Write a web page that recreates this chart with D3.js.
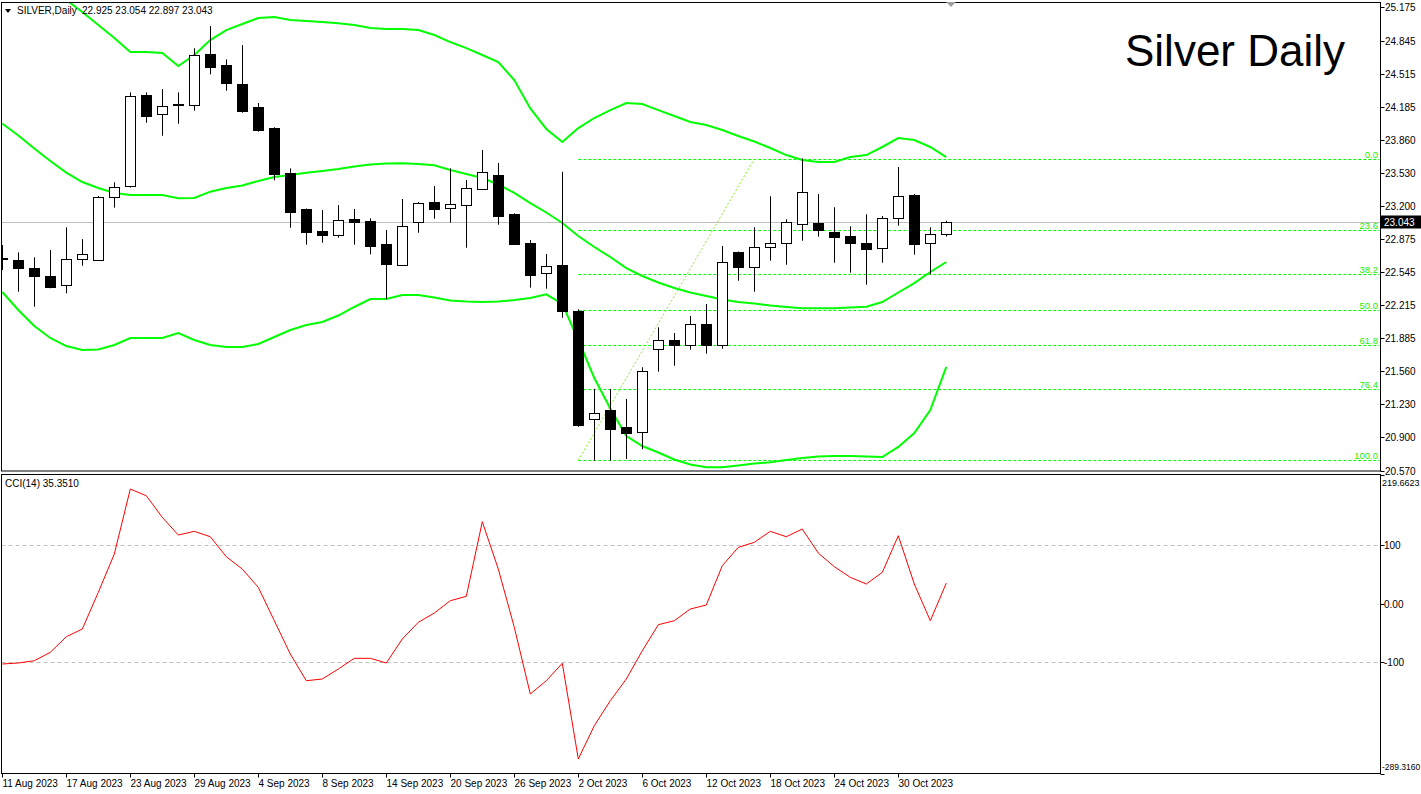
<!DOCTYPE html>
<html><head><meta charset="utf-8">
<script src="https://cdn.jsdelivr.net/npm/d3@7"></script>
<style>
body{margin:0;background:#fff;overflow:hidden;}
text{font-family:"Liberation Sans",Arial,sans-serif;}
</style>
</head><body>
<svg id="chart" width="1421" height="794"></svg>
<script>
// ---------- DATA ----------
const opens  = [22.684,22.664,22.581,22.508,22.412,22.671,22.661,23.293,23.396,24.301,24.118,24.206,24.201,24.711,24.599,24.410,24.184,23.976,23.525,23.171,22.952,22.909,23.071,23.051,22.823,22.611,23.038,23.237,23.178,23.207,23.366,23.509,23.121,22.833,22.532,22.614,22.154,21.081,21.173,21.001,20.952,21.776,21.866,21.816,22.028,21.816,22.740,22.591,22.790,22.830,23.019,23.029,22.939,22.899,22.830,22.780,23.078,23.307,22.830,22.925];
const highs  = [22.813,22.740,22.691,22.763,22.989,22.872,23.300,23.436,24.330,24.330,24.363,24.330,24.768,24.989,24.658,24.800,24.224,23.983,23.575,23.176,23.161,23.210,23.171,23.078,22.962,23.270,23.240,23.399,23.575,23.459,23.757,23.628,23.128,22.863,22.723,23.541,22.174,21.382,21.382,21.283,21.598,21.995,21.938,22.107,22.227,22.803,22.748,22.989,23.297,23.068,23.674,23.320,23.188,22.999,23.118,23.101,23.588,23.320,22.989,23.054];
const lows   = [22.564,22.349,22.200,22.383,22.333,22.607,22.654,23.184,23.384,24.028,23.899,24.018,24.148,24.509,24.346,24.128,23.939,23.456,22.985,22.816,22.836,22.885,22.816,22.720,22.276,22.609,22.935,23.074,23.035,22.786,23.359,23.015,22.820,22.389,22.379,22.090,21.007,20.669,20.669,20.686,20.783,21.554,21.613,21.772,21.733,21.782,22.458,22.349,22.657,22.617,22.856,22.895,22.637,22.538,22.418,22.637,23.005,22.717,22.522,22.897];
const closes = [22.679,22.581,22.508,22.393,22.671,22.720,23.287,23.386,24.291,24.098,24.197,24.211,24.698,24.585,24.420,24.148,23.959,23.521,23.144,22.945,22.915,23.058,23.044,22.806,22.627,22.999,23.227,23.174,23.217,23.376,23.538,23.104,22.826,22.518,22.604,22.160,21.024,21.140,20.987,20.948,21.558,21.866,21.816,22.025,21.816,22.641,22.591,22.790,22.830,23.038,23.337,22.959,22.895,22.836,22.776,23.078,23.297,22.826,22.925,23.043];

const bbUpper  = [25.645,25.526,25.407,25.307,25.248,25.128,24.999,24.870,24.731,24.731,24.721,24.592,24.701,24.850,24.949,25.009,25.069,25.079,25.049,25.039,25.029,25.016,24.999,24.969,24.959,24.959,24.949,24.900,24.830,24.770,24.701,24.631,24.453,24.170,23.966,23.836,23.975,24.075,24.154,24.224,24.214,24.154,24.095,24.035,24.005,23.956,23.896,23.841,23.777,23.707,23.657,23.638,23.638,23.687,23.707,23.787,23.876,23.856,23.787,23.687];
const bbMiddle = [24.020,23.901,23.772,23.648,23.533,23.439,23.379,23.330,23.310,23.310,23.310,23.277,23.280,23.343,23.379,23.404,23.449,23.489,23.509,23.531,23.548,23.568,23.593,23.613,23.623,23.625,23.618,23.605,23.558,23.518,23.479,23.414,23.330,23.230,23.136,23.032,22.902,22.793,22.694,22.584,22.505,22.440,22.386,22.341,22.306,22.271,22.246,22.232,22.212,22.197,22.184,22.184,22.184,22.192,22.200,22.246,22.341,22.435,22.545,22.644];
const bbLower  = [22.346,22.167,22.008,21.889,21.809,21.769,21.774,21.819,21.889,21.889,21.889,21.938,21.869,21.819,21.799,21.799,21.829,21.899,21.968,22.018,22.048,22.112,22.197,22.276,22.276,22.316,22.316,22.291,22.261,22.251,22.246,22.251,22.266,22.286,22.323,22.227,21.869,21.491,21.188,20.915,20.815,20.751,20.681,20.632,20.604,20.604,20.622,20.642,20.653,20.676,20.696,20.711,20.716,20.716,20.711,20.706,20.806,20.945,21.173,21.601];

const cciValues = [-102.6,-100.9,-97.0,-82.7,-56.1,-43.0,19.6,84.9,195.7,184.3,147.5,117.3,123.6,114.4,80.3,59.3,28.1,-28.8,-85.6,-131.1,-128.2,-111.2,-92.9,-92.9,-100.9,-60.0,-31.5,-15.7,5.3,12.8,140.0,59.3,-40.1,-153.8,-131.1,-101.4,-264.6,-207.8,-165.2,-128.2,-80.0,-35.6,-28.8,-8.9,-2.0,65.0,96.3,104.9,123.6,114.4,127.5,86.6,63.3,45.2,33.8,53.7,116.1,33.8,-28.8,35.35];

const priceTicks = [25.175,24.845,24.515,24.185,23.860,23.530,23.200,22.875,22.545,22.215,21.885,21.560,21.230,20.900,20.570];
const cciTicks = [219.6623,100,0,-100,-289.3160];
const cciTickLabels = ["219.6623","100","0.00","-100","-289.3160"];
const cciLevels = [100,-100];
const dateTickIndex = [0,4,8,12,16,20,24,28,32,36,40,44,48,52,56];
const dateTickLabels = ["11 Aug 2023","17 Aug 2023","23 Aug 2023","29 Aug 2023","4 Sep 2023","8 Sep 2023","14 Sep 2023","20 Sep 2023","26 Sep 2023","2 Oct 2023","6 Oct 2023","12 Oct 2023","18 Oct 2023","24 Oct 2023","30 Oct 2023"];
const fibLevels = [0.0,23.6,38.2,50.0,61.8,76.4,100.0];
const fibHigh = 23.668, fibLow = 20.672;
const fibStartIndex = 36, fibEndIndex = 47;
const lastPrice = 23.043;
const symbolText = "SILVER,Daily";
const ohlcText = "22.925 23.054 22.897 23.043";
const cciTitle = "CCI(14) 35.3510";
const chartTitle = "Silver Daily";

// ---------- LAYOUT ----------
const L = 1.5, R = 1380.5, mainTop = 2.5, mainBot = 471, cciTop = 474.5, cciBot = 773.5;
const green = "#00ff00";
const svg = d3.select("#chart");

const x = d3.scaleLinear().domain([0, 59]).range([2.3, 946.3]);
const y = d3.scaleLinear().domain([20.567, 25.218]).range([471, 3]);
const yc = d3.scaleLinear().domain([-289.316, 219.6623]).range([773.5, 475]);
const px = v => Math.round(v) + 0.5;

svg.append("rect").attr("width",1421).attr("height",794).attr("fill","#fff");

const defs = svg.append("defs");
defs.append("clipPath").attr("id","clipMain").append("rect")
  .attr("x",L).attr("y",mainTop).attr("width",R-L).attr("height",mainBot-mainTop);
defs.append("clipPath").attr("id","clipCci").append("rect")
  .attr("x",L).attr("y",cciTop).attr("width",R-L).attr("height",cciBot-cciTop);

const main = svg.append("g").attr("clip-path","url(#clipMain)");

// current price line
main.append("line").attr("x1",L).attr("x2",R).attr("y1",px(y(lastPrice))).attr("y2",px(y(lastPrice)))
  .attr("stroke","#c0c0c0").attr("stroke-width",1);

// Fibonacci levels
const fx1 = x(fibStartIndex);
fibLevels.forEach(lv => {
  const p = fibHigh - lv/100*(fibHigh-fibLow);
  const yy = px(y(p));
  main.append("line").attr("x1",fx1).attr("x2",R-1).attr("y1",yy).attr("y2",yy)
    .attr("stroke",green).attr("stroke-width",1).attr("stroke-dasharray","3,2");
  svg.append("text").attr("x",1378).attr("y",yy-2).attr("text-anchor","end")
    .attr("font-size",9.5).attr("fill","#22ee00").text(lv.toFixed(1));
});
main.append("line").attr("x1",x(fibStartIndex)).attr("y1",y(fibLow))
  .attr("x2",x(fibEndIndex)).attr("y2",y(fibHigh))
  .attr("stroke","#88ee22").attr("stroke-width",1).attr("stroke-dasharray","2,2");

// Bollinger bands
const bandLine = arr => d3.line().x((d,i)=>x(i)).y(d=>y(d))(arr);
[bbUpper,bbMiddle,bbLower].forEach(arr => {
  main.append("path").attr("d",bandLine(arr)).attr("fill","none")
    .attr("stroke",green).attr("stroke-width",2);
});

// Candles
const candles = main.append("g");
opens.forEach((o,i) => {
  const c = closes[i], cx = px(x(i));
  candles.append("line").attr("x1",cx).attr("x2",cx)
    .attr("y1",y(highs[i])).attr("y2",y(lows[i]))
    .attr("stroke","#000").attr("stroke-width",1);
  const top = Math.round(y(Math.max(o,c))), bot = Math.round(y(Math.min(o,c)));
  candles.append("rect").attr("x",cx-5).attr("y",top+0.5)
    .attr("width",10).attr("height",Math.max(1,bot-top))
    .attr("fill", c>=o ? "#fff" : "#000").attr("stroke","#000").attr("stroke-width",1);
});

// CCI panel
const cg = svg.append("g").attr("clip-path","url(#clipCci)");
cciLevels.forEach(v => {
  cg.append("line").attr("x1",L).attr("x2",R).attr("y1",px(yc(v))).attr("y2",px(yc(v)))
    .attr("stroke","#c0c0c0").attr("stroke-width",1).attr("stroke-dasharray","4,3");
});
cg.append("path").attr("d", d3.line().x((d,i)=>x(i)).y(d=>yc(d))(cciValues))
  .attr("fill","none").attr("stroke","#ff0000").attr("stroke-width",1);

// Frames
svg.append("rect").attr("x",L).attr("y",mainTop).attr("width",R-L).attr("height",mainBot-mainTop)
  .attr("fill","none").attr("stroke","#000").attr("stroke-width",1);
svg.append("rect").attr("x",L).attr("y",cciTop).attr("width",R-L).attr("height",cciBot-cciTop)
  .attr("fill","none").attr("stroke","#000").attr("stroke-width",1);

// Price axis
priceTicks.forEach(t => {
  const yy = px(y(t));
  svg.append("line").attr("x1",R).attr("x2",R+4).attr("y1",yy).attr("y2",yy).attr("stroke","#000");
  svg.append("text").attr("x",1385).attr("y",yy).attr("dy","0.35em").attr("font-size",10)
    .attr("fill","#000").text(t.toFixed(3));
});
// current price tag
const ly = px(y(lastPrice));
svg.append("rect").attr("x",1381).attr("y",ly-7).attr("width",40).attr("height",13).attr("fill","#000");
svg.append("text").attr("x",1384).attr("y",ly).attr("dy","0.35em").attr("font-size",10)
  .attr("fill","#fff").text(lastPrice.toFixed(3));

// CCI axis
cciTicks.forEach((t,i) => {
  let yy = px(yc(t));
  svg.append("line").attr("x1",R).attr("x2",R+4).attr("y1",yy).attr("y2",yy).attr("stroke","#000");
  let fs = 10, xx = 1384;
  if (i===0) { yy += 7; fs = 9; xx = 1382; }
  if (i===cciTicks.length-1) { yy -= 7; fs = 8.5; xx = 1382; }
  svg.append("text").attr("x",xx).attr("y",yy).attr("dy","0.35em").attr("font-size",fs)
    .attr("fill","#000").text(cciTickLabels[i]);
});

// Date axis
dateTickIndex.forEach((idx,i) => {
  const xx = px(x(idx));
  svg.append("line").attr("x1",xx).attr("x2",xx).attr("y1",cciBot).attr("y2",cciBot+4).attr("stroke","#000");
  svg.append("text").attr("x",xx).attr("y",787).attr("font-size",10).attr("fill","#000")
    .text(dateTickLabels[i]);
});

// Header & titles
svg.append("path").attr("d","M5,9 L11,9 L8,13 Z").attr("fill","#000");
svg.append("text").attr("x",17).attr("y",14).attr("font-size",10).attr("fill","#000").text(symbolText);
svg.append("text").attr("x",82).attr("y",14).attr("font-size",10).attr("fill","#000").text(ohlcText);
svg.append("text").attr("x",5).attr("y",487).attr("font-size",10).attr("fill","#000").text(cciTitle);
svg.append("text").attr("x",1125).attr("y",66).attr("font-size",44).attr("fill","#000").text(chartTitle);
svg.append("path").attr("d","M946,2 L956,2 L951,7 Z").attr("fill","#a0a0a0");
</script>
</body></html>
